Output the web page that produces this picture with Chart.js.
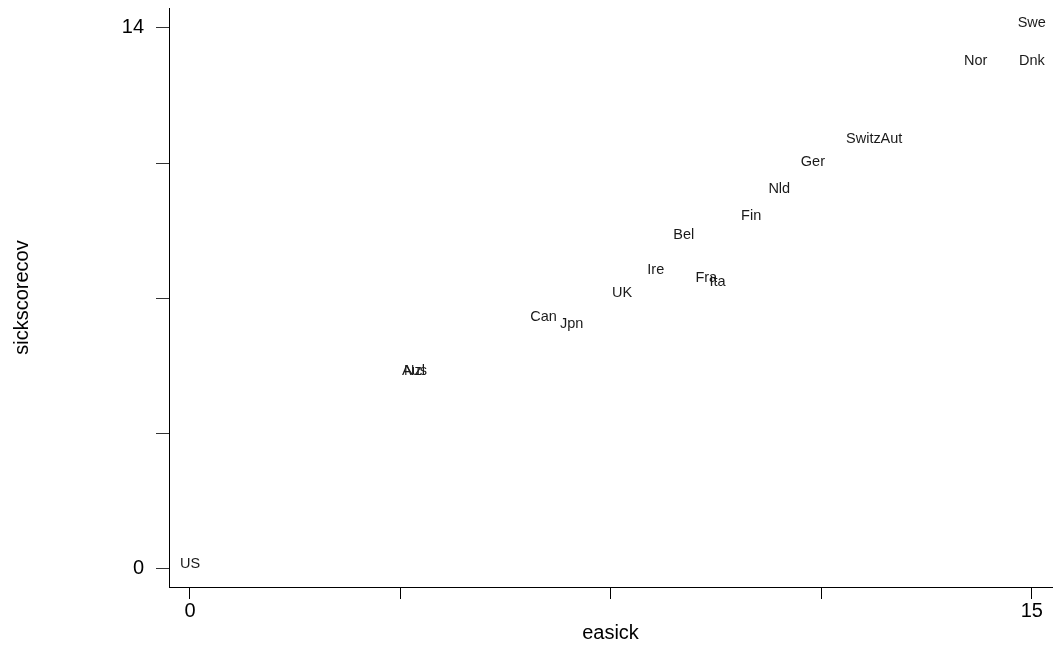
<!DOCTYPE html>
<html>
<head>
<meta charset="utf-8">
<script src="https://cdn.jsdelivr.net/npm/chart.js@4.4.1/dist/chart.umd.min.js"></script>
<style>
  html, body { margin: 0; padding: 0; background: #ffffff; }
  #wrap { width: 1055px; height: 652px; }
</style>
</head>
<body>
<div id="wrap"><canvas id="c" width="1055" height="652"></canvas></div>
<script>
const countries = ['US','Aus','Nzl','Can','Jpn','UK','Ire','Fra','Ita','Bel','Fin','Nld','Ger','Switz','Aut','Nor','Dnk','Swe'];
const easick = [0, 4, 4, 6.3, 6.8, 7.7, 8.3, 9.2, 9.4, 8.8, 10, 10.5, 11.1, 12, 12.5, 14, 15, 15];
const sickscorecov = [0, 5, 5, 6.4, 6.2, 7.0, 7.6, 7.4, 7.3, 8.5, 9, 9.7, 10.4, 11, 11, 13, 13, 14];

const xTickValues = [0, 3.75, 7.5, 11.25, 15];
const xTickLabels = ['0', '', '', '', '15'];
const yTickValues = [0, 3.5, 7, 10.5, 14];
const yTickLabels = ['0', '', '', '', '14'];

const FONT = "'Liberation Sans', Arial, Helvetica, sans-serif";

const points = easick.map((x, i) => ({ x: x, y: sickscorecov[i], label: countries[i] }));

const labelPlugin = {
  id: 'pointLabels',
  afterDatasetsDraw(chart) {
    const ctx = chart.ctx;
    const meta = chart.getDatasetMeta(0);
    ctx.save();
    ctx.font = '14.5px ' + FONT;
    ctx.fillStyle = '#1a1a1a';
    ctx.textAlign = 'center';
    ctx.textBaseline = 'middle';
    meta.data.forEach((el, i) => {
      ctx.fillText(points[i].label, el.x, el.y - 5);
    });
    ctx.restore();
  }
};

new Chart(document.getElementById('c'), {
  type: 'scatter',
  data: {
    datasets: [{
      data: points,
      pointRadius: 0,
      pointHoverRadius: 0,
      showLine: false
    }]
  },
  options: {
    responsive: false,
    animation: false,
    events: [],
    layout: { padding: { top: 8, right: 3, left: 0, bottom: 0 } },
    plugins: { legend: { display: false }, tooltip: { enabled: false } },
    scales: {
      x: {
        type: 'linear',
        min: -0.374,
        max: 15.36,
        afterBuildTicks(scale) { scale.ticks = xTickValues.map(v => ({ value: v })); },
        afterFit(scale) { scale.height = 65; scale.paddingLeft = 0; scale.paddingRight = 0; },
        ticks: {
          autoSkip: false,
          maxRotation: 0,
          padding: 0,
          color: '#000000',
          font: { family: FONT, size: 20 },
          callback: (v, i) => xTickLabels[i]
        },
        grid: { display: true, drawOnChartArea: false, drawTicks: true, tickLength: 12, color: '#000000', lineWidth: 1 },
        border: { display: true, color: '#000000', width: 1 },
        title: { display: true, text: 'easick', color: '#000000', font: { family: FONT, size: 20 }, padding: { top: 0, bottom: 7 } }
      },
      y: {
        type: 'linear',
        min: -0.466,
        max: 14.51,
        afterBuildTicks(scale) { scale.ticks = yTickValues.map(v => ({ value: v })); },
        afterFit(scale) { scale.width = 169; scale.paddingTop = 0; scale.paddingBottom = 0; },
        ticks: {
          autoSkip: false,
          padding: 12,
          color: '#000000',
          font: { family: FONT, size: 20 },
          callback: (v, i) => yTickLabels[i]
        },
        grid: { display: true, drawOnChartArea: false, drawTicks: true, tickLength: 13, color: '#333333', lineWidth: 1 },
        border: { display: true, color: '#000000', width: 1 },
        title: { display: true, text: 'sickscorecov', color: '#000000', font: { family: FONT, size: 20 }, padding: { top: 10, bottom: 0 } }
      }
    }
  },
  plugins: [labelPlugin]
});
</script>
</body>
</html>
